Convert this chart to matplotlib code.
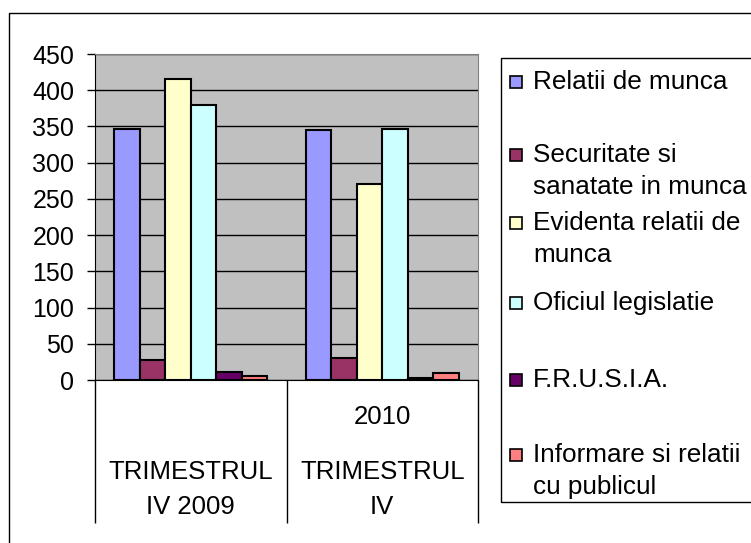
import matplotlib.pyplot as plt
import matplotlib.transforms as mtransforms
from matplotlib.patches import Rectangle
import numpy as np

plt.rcParams['font.family'] = ['Liberation Sans', 'DejaVu Sans']

# data
categories = ["TRIMESTRUL IV 2009", "TRIMESTRUL IV 2010"]
cat_label_lines = [["TRIMESTRUL", "IV 2009"], ["2010", "TRIMESTRUL", "IV"]]
series = ["Relatii de munca", "Securitate si sanatate in munca",
          "Evidenta relatii de munca", "Oficiul legislatie",
          "F.R.U.S.I.A.", "Informare si relatii cu publicul"]
legend_lines = [["Relatii de munca"], ["Securitate si", "sanatate in munca"],
                ["Evidenta relatii de", "munca"], ["Oficiul legislatie"],
                ["F.R.U.S.I.A."], ["Informare si relatii", "cu publicul"]]
values_2009 = [347, 28, 416, 380, 11, 6]
values_2010 = [345, 31, 270, 347, 3, 9]
colors = ["#9999FF", "#993366", "#FFFFCC", "#CCFFFF", "#660066", "#FF8080"]
yticks = list(range(0, 451, 50))

W, H = 751, 543
fig = plt.figure(figsize=(W / 100, H / 100), dpi=100)

# outer chart border (only top and left visible)
fig.add_artist(Rectangle((9 / W, -0.1), 1.0, 1.1 - 13 / H, fill=False,
                         edgecolor='black', linewidth=1, transform=fig.transFigure))

ax = fig.add_axes([95 / W, 1 - 380 / H, (478 - 95) / W, (380 - 54) / H])
ax.set_facecolor('#C0C0C0')
ax.set_axisbelow(True)

n = len(series)
width = 0.8 / n
x = np.arange(len(categories)) + 0.5
for i in range(n):
    vals = [values_2009[i], values_2010[i]]
    ax.bar(x - 0.4 + width * (i + 0.5), vals, width, color=colors[i],
           edgecolor='black', linewidth=1.5, zorder=3)

ax.set_xlim(0, len(categories))
ax.set_ylim(0, 450)
ax.set_yticks(yticks)
ax.yaxis.grid(True, color='black', linewidth=1)
ax.tick_params(axis='y', length=6, width=1, pad=9, labelsize=18)

# category boundaries drawn as long outward ticks
ax.set_xticks(np.arange(len(categories) + 1))
ax.set_xticklabels([])
ax.tick_params(axis='x', length=143 * 0.72, width=1, direction='out')

for side in ['left', 'bottom']:
    ax.spines[side].set_color('black')
for side in ['top', 'right']:
    ax.spines[side].set_color('#808080')

# category labels, bottom aligned
trans = mtransforms.blended_transform_factory(ax.transData, fig.transFigure)
line_y = [507, 472, 417]
for j, lines in enumerate(cat_label_lines):
    for k, line in enumerate(reversed(lines)):
        ax.text(x[j], 1 - line_y[k] / H, line, transform=trans, ha='center',
                va='center', fontsize=18.5, clip_on=False)

# legend
fig.add_artist(Rectangle((501 / W, 1 - 502 / H), 1.0, (502 - 58) / H, fill=False,
                         edgecolor='black', linewidth=1, transform=fig.transFigure))
first_y = [82, 155, 223, 303, 380, 455]
for i, lines in enumerate(legend_lines):
    yc = first_y[i]
    fig.add_artist(Rectangle((510 / W, 1 - (yc + 6) / H), 12 / W, 12 / H,
                             facecolor=colors[i], edgecolor='black', linewidth=1.2,
                             transform=fig.transFigure))
    for k, line in enumerate(lines):
        fig.text(533 / W, 1 - (yc + 32 * k) / H, line, ha='left', va='center',
                 fontsize=18.8)

fig.savefig('out.png', dpi=100)
